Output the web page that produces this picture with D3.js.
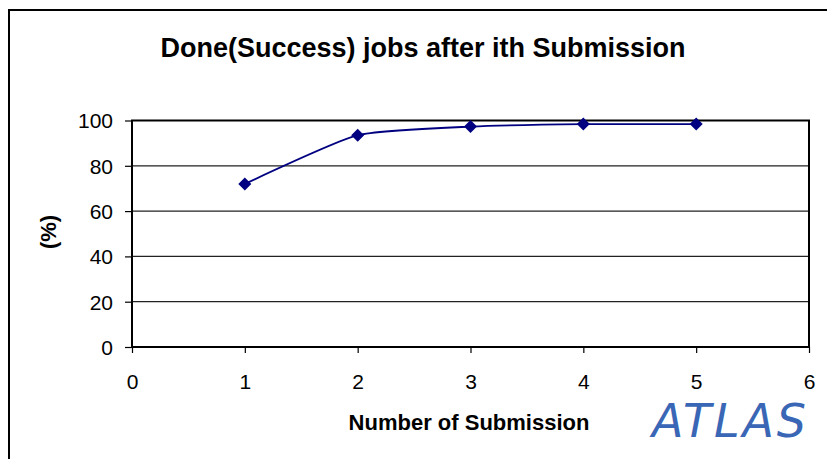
<!DOCTYPE html>
<html>
<head>
<meta charset="utf-8">
<script src="https://cdn.jsdelivr.net/npm/d3@7.9.0/dist/d3.min.js"></script>
<style>
  html, body { margin: 0; padding: 0; background: #fff; }
  svg { display: block; font-family: "Liberation Sans", Arial, sans-serif; }
</style>
</head>
<body>
<svg id="chart" width="827" height="459"></svg>
<script>
// data
const submissions = [1, 2, 3, 4, 5];
const donePct = [72, 93.5, 97.3, 98.4, 98.4];
const xTicks = [0, 1, 2, 3, 4, 5, 6];
const yTicks = [0, 20, 40, 60, 80, 100];

const svg = d3.select("#chart");
const plotLeft = 132, plotRight = 809, plotTop = 120.5, plotBottom = 347;

const x = d3.scaleLinear().domain([0, 6]).range([plotLeft, plotRight]);
const y = d3.scaleLinear().domain([0, 100]).range([plotBottom, plotTop]);

// outer chart frame
svg.append("path")
  .attr("d", `M9,470 V10 H830`)
  .attr("fill", "none")
  .attr("stroke", "#000")
  .attr("stroke-width", 2);

// gridlines
svg.append("g")
  .selectAll("line")
  .data(yTicks.filter((d) => d > 0 && d < 100))
  .join("line")
  .attr("x1", plotLeft).attr("x2", plotRight)
  .attr("y1", (d) => y(d)).attr("y2", (d) => y(d))
  .attr("stroke", "#222")
  .attr("stroke-width", 1.2);

// plot border
svg.append("rect")
  .attr("x", plotLeft).attr("y", plotTop)
  .attr("width", plotRight - plotLeft).attr("height", plotBottom - plotTop)
  .attr("fill", "none")
  .attr("stroke", "#000")
  .attr("stroke-width", 2);

// axes
const yAxis = svg.append("g")
  .attr("transform", `translate(${plotLeft},0)`)
  .call(d3.axisLeft(y).tickValues(yTicks).tickFormat(d3.format("d")).tickSize(7).tickPadding(12));
const xAxis = svg.append("g")
  .attr("transform", `translate(0,${plotBottom})`)
  .call(d3.axisBottom(x).tickValues(xTicks).tickFormat(d3.format("d")).tickSize(6).tickPadding(21));

[yAxis, xAxis].forEach((g) => {
  g.select(".domain").remove();
  g.selectAll(".tick line").attr("stroke", "#000").attr("stroke-width", 1.2);
  g.selectAll("text")
    .attr("font-family", "Liberation Sans, Arial, sans-serif")
    .attr("font-size", 21)
    .attr("fill", "#000");
});
yAxis.selectAll("text").attr("dy", "0.35em");

// series line
const pts = submissions.map((s, i) => [s, donePct[i]]);
const line = d3.line()
  .x((d) => x(d[0]))
  .y((d) => y(d[1]))
  .curve(d3.curveCardinal.tension(0.5));

svg.append("path")
  .datum(pts)
  .attr("d", line)
  .attr("fill", "none")
  .attr("stroke", "#000080")
  .attr("stroke-width", 1.8);

svg.append("g")
  .selectAll("path")
  .data(pts)
  .join("path")
  .attr("transform", (d) => `translate(${x(d[0])},${y(d[1])})`)
  .attr("d", "M0,-6.5 L6.5,0 L0,6.5 L-6.5,0 Z")
  .attr("fill", "#000080");

// titles
svg.append("text")
  .attr("x", 423).attr("y", 57)
  .attr("text-anchor", "middle")
  .attr("font-size", 27)
  .attr("font-weight", "bold")
  .text("Done(Success) jobs after ith Submission");

svg.append("text")
  .attr("transform", "translate(56,232) rotate(-90)")
  .attr("text-anchor", "middle")
  .attr("font-size", 22)
  .attr("font-weight", "bold")
  .text("(%)");

svg.append("text")
  .attr("x", 469).attr("y", 430)
  .attr("text-anchor", "middle")
  .attr("font-size", 22)
  .attr("font-weight", "bold")
  .text("Number of Submission");

svg.append("text")
  .attr("x", 652).attr("y", 437)
  .attr("font-family", "DejaVu Sans, sans-serif")
  .attr("font-style", "italic")
  .attr("font-size", 46)
  .attr("letter-spacing", 6)
  .attr("fill", "#3a66b6")
  .attr("textLength", 160)
  .text("ATLAS");
</script>
</body>
</html>
